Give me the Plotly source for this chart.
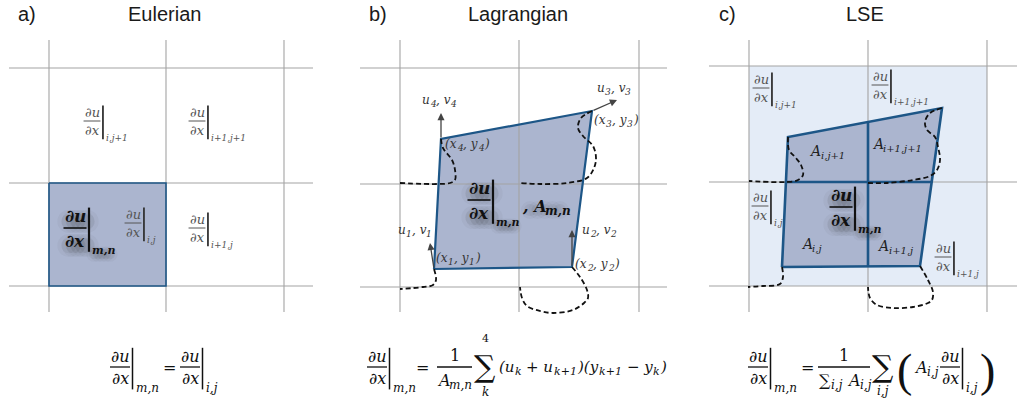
import plotly.graph_objects as go

W, H = 1017, 403

# ---- grid of each panel (pixel-space coordinates) ----
GRID_X = {"a": [49, 166, 284], "b": [400, 519, 639], "c": [749, 868, 987]}
GRID_Y = {"a": [68, 183, 286], "b": [68, 184, 287], "c": [66, 182, 286]}
GRID_XSPAN = {"a": [9, 313], "b": [360, 667], "c": [709, 1017]}
GRID_YSPAN = [40, 312]

# ---- a) Eulerian cell ----
EULER_CELL_X = [49, 166, 166, 49]
EULER_CELL_Y = [183, 183, 286, 286]

# ---- b) Lagrangian element, vertices 1..4 ----
LAG_QUAD_X = [434, 572, 592, 441]
LAG_QUAD_Y = [269, 267, 111, 139]
LAG_VEL_TIP_X = [430, 572, 617, 441]
LAG_VEL_TIP_Y = [243, 230, 100, 113]
LAG_TRACKS = [
    ([441, 443, 452, 455, 455, 450, 437, 400], [139, 148, 160, 170, 180, 183, 184, 183]),
    ([592, 581, 578, 583, 593, 596, 594, 587, 567, 540, 520], [111, 118, 128, 136, 146, 158, 168, 178, 183, 184, 183]),
    ([434, 436, 433, 423, 400], [269, 280, 285, 287, 289]),
    ([572, 580, 587, 588, 584, 573, 553, 540, 527, 522, 520], [267, 277, 290, 298, 303, 310, 313, 311, 306, 298, 287]),
]

# ---- c) LSE: background stencil and split element ----
LSE_BOX_X = [749, 987]
LSE_BOX_Y = [66, 286]
LSE_QUAD_X = [782, 920, 942, 788]
LSE_QUAD_Y = [267, 266, 108, 137]
LSE_SPLIT_X = 868
LSE_SPLIT_Y = 182
LSE_TRACKS = [
    ([788, 789, 795, 801, 803, 798, 787, 749], [137, 150, 157, 165, 175, 180, 182, 181]),
    ([942, 930, 925, 927, 935, 938, 940, 937, 930, 913, 887, 868], [108, 113, 122, 130, 137, 147, 160, 170, 176, 180, 183, 183]),
    ([782, 783, 780, 763, 748], [267, 277, 284, 286, 287]),
    ([920, 928, 933, 932, 928, 913, 893, 877, 870, 868], [266, 280, 292, 300, 303, 307, 308, 305, 298, 287]),
]

GRID_COLOR = "#a3a3a3"
EDGE = "#1d5687"
FILL = "#abb5cf"
LIGHT = "#e4ecf7"
MATH = "DejaVu Serif"
SANS = "Liberation Sans"

# approximate advance widths (em) of the italic math font
CHAR_W = {"(": 0.39, ")": 0.39, "x": 0.59, "y": 0.59, "u": 0.63, "v": 0.52, "A": 0.76,
          ",": 0.30, " ": 0.30, "+": 0.80, "−": 0.80, "∑": 0.72, "k": 0.58, "i": 0.28,
          "j": 0.28, "m": 0.97, "n": 0.63, "1": 0.64, "2": 0.64, "3": 0.64, "4": 0.64}

fig = go.Figure()


def poly(xs, ys, fill=None, line=None, width=1.0, dash=None, shape="linear"):
    xs = list(xs)
    ys = list(ys)
    if fill is not None:
        xs = xs + xs[:1]
        ys = ys + ys[:1]
    fig.add_trace(go.Scatter(
        x=xs, y=ys, mode="lines",
        fill="toself" if fill else None, fillcolor=fill,
        line=dict(color=line or "rgba(0,0,0,0)", width=width if line else 0,
                  dash=dash, shape=shape, smoothing=1.0 if shape == "spline" else None),
        hoverinfo="skip", showlegend=False))


def seg(x0, y0, x1, y1, color, width):
    poly([x0, x1], [y0, y1], line=color, width=width)


def txt(x, y, s, size, color="#222", family=MATH, anchor="center"):
    fig.add_annotation(x=x, y=y, xref="x", yref="y", text=s, showarrow=False,
                       xanchor=anchor, yanchor="middle", borderpad=0,
                       font=dict(size=int(round(size)), color=color, family=family))


def text_w(s, size):
    return sum(CHAR_W.get(c, 0.6) for c in s) * size * 1.05


def run(x, y, pieces, size, color="#222", anchor="left", bold=False):
    """Italic math run; pieces are (text, 'n') for normal and (text, 's') for subscripts."""
    sub_size = int(round(size * 0.72))
    sizes = [size if k == "n" else sub_size for _, k in pieces]
    total = sum(text_w(t, sz) for (t, _), sz in zip(pieces, sizes))
    cur = x - total / 2 if anchor == "center" else x
    for (t, k), sz in zip(pieces, sizes):
        core = t.strip(" ")
        lead = len(t) - len(t.lstrip(" "))
        trail = len(t) - len(t.rstrip(" "))
        cur += lead * text_w(" ", sz)
        label = "<i>%s</i>" % core
        if bold:
            label = "<b>%s</b>" % label
        yy = y if k == "n" else y + 0.33 * size
        txt(cur, yy, label, sz, color, anchor="left")
        cur += text_w(core, sz) + trail * text_w(" ", sz)


def smudge(cx, cy, span, size):
    # soft drop shadow under bold expressions
    xs = [cx - span / 2 + i * span / 4 for i in range(5)]
    for sz, a in [(size * 1.5, 0.04), (size * 1.0, 0.06)]:
        fig.add_trace(go.Scatter(x=xs, y=[cy] * 5, mode="markers",
                                 marker=dict(size=sz, color="rgba(40,40,40,%.2f)" % a, line=dict(width=0)),
                                 hoverinfo="skip", showlegend=False))


def deriv(xc, ybar, size, sub, color="#555", bar="#333", bold=False, w=None,
          shadow=False, line_w=1.0, bar_w=1.8, sub_size=None):
    w = w or 1.3 * size
    sub_size = sub_size or 0.72 * size
    num, den = "∂u", "∂x"
    subt = sub
    if bold:
        num, den, subt = "<b>∂u</b>", "<b>∂x</b>", "<b>%s</b>" % sub
    vx = xc + w / 2 + 2.5
    if shadow:
        smudge(xc + 3, ybar - 0.68 * size + 5, w * 0.8, size * 0.9)
        smudge(xc + 3, ybar + 0.74 * size + 5, w * 0.8, size * 0.9)
        smudge(vx + 13, ybar + 1.3 * size + 4, 16, size * 0.6)
    txt(xc, ybar - 0.68 * size, "<i>%s</i>" % num, size, color)
    txt(xc, ybar + 0.74 * size, "<i>%s</i>" % den, size, color)
    seg(xc - w / 2, ybar, xc + w / 2, ybar, color, line_w)
    seg(vx, ybar - 1.2 * size, vx, ybar + 1.4 * size, bar, bar_w)
    txt(vx + 2, ybar + 1.3 * size, "<i>%s</i>" % subt, sub_size, color, anchor="left")


# ---- backgrounds and element fills ----
poly([LSE_BOX_X[0], LSE_BOX_X[1], LSE_BOX_X[1], LSE_BOX_X[0]],
     [LSE_BOX_Y[0], LSE_BOX_Y[0], LSE_BOX_Y[1], LSE_BOX_Y[1]], fill=LIGHT)
poly(EULER_CELL_X, EULER_CELL_Y, fill=FILL)
poly(LAG_QUAD_X, LAG_QUAD_Y, fill=FILL)
poly(LSE_QUAD_X, LSE_QUAD_Y, fill=FILL)

# ---- grid lines ----
for p in "abc":
    for gx in GRID_X[p]:
        seg(gx, GRID_YSPAN[0], gx, GRID_YSPAN[1], GRID_COLOR, 1.1)
    for gy in GRID_Y[p]:
        seg(GRID_XSPAN[p][0], gy, GRID_XSPAN[p][1], gy, GRID_COLOR, 1.1)

# ---- element outlines ----
poly(EULER_CELL_X + EULER_CELL_X[:1], EULER_CELL_Y + EULER_CELL_Y[:1], line=EDGE, width=1.6)
poly(LAG_QUAD_X + LAG_QUAD_X[:1], LAG_QUAD_Y + LAG_QUAD_Y[:1], line=EDGE, width=2.2)
poly(LSE_QUAD_X + LSE_QUAD_X[:1], LSE_QUAD_Y + LSE_QUAD_Y[:1], line=EDGE, width=2.6)


def edge_x_at(y, i0, i1):
    x0, y0, x1, y1 = LSE_QUAD_X[i0], LSE_QUAD_Y[i0], LSE_QUAD_X[i1], LSE_QUAD_Y[i1]
    return x0 + (y - y0) / (y1 - y0) * (x1 - x0)


def edge_y_at(x, i0, i1):
    x0, y0, x1, y1 = LSE_QUAD_X[i0], LSE_QUAD_Y[i0], LSE_QUAD_X[i1], LSE_QUAD_Y[i1]
    return y0 + (x - x0) / (x1 - x0) * (y1 - y0)


seg(LSE_SPLIT_X, edge_y_at(LSE_SPLIT_X, 3, 2), LSE_SPLIT_X, edge_y_at(LSE_SPLIT_X, 0, 1), EDGE, 2.6)
seg(edge_x_at(LSE_SPLIT_Y, 0, 3), LSE_SPLIT_Y, edge_x_at(LSE_SPLIT_Y, 1, 2), LSE_SPLIT_Y, EDGE, 2.6)

# ---- material tracks (dashed) ----
for xs, ys in LAG_TRACKS + LSE_TRACKS:
    poly(xs, ys, line="#111", width=1.8, dash="5px,3px", shape="spline")

# ---- velocity arrows ----
for x0, y0, x1, y1 in zip(LAG_QUAD_X, LAG_QUAD_Y, LAG_VEL_TIP_X, LAG_VEL_TIP_Y):
    fig.add_annotation(x=x1, y=y1, ax=x0, ay=y0, xref="x", yref="y", axref="x", ayref="y",
                       text="", showarrow=True, arrowhead=2, arrowsize=1.1,
                       arrowwidth=1.3, arrowcolor="#444")

# ---- panel titles ----
for x, lab in [(27, "a)"), (378, "b)"), (727, "c)")]:
    txt(x, 14, lab, 20, "#1a1a1a", SANS)
for x, lab in [(164, "Eulerian"), (518, "Lagrangian"), (865, "LSE")]:
    txt(x, 14, lab, 20, "#1a1a1a", SANS)

# ---- a) Eulerian labels ----
deriv(92, 121, 13, "i,j+1")
deriv(197, 121, 13, "i+1,j+1")
deriv(197, 228, 13, "i+1,j")
deriv(133, 223, 13, "i,j")
deriv(75, 228, 17, "m,n", color="#111", bar="#111", bold=True, w=23, shadow=True,
      line_w=1.6, bar_w=2.2, sub_size=11)

# ---- b) Lagrangian labels ----
deriv(479, 200, 17, "m,n", color="#111", bar="#111", bold=True, w=23, shadow=True,
      line_w=1.6, bar_w=2.2, sub_size=11)
smudge(545, 210, 30, 12)
run(521, 206, [(", A", "n"), ("m,n", "s")], 16, "#111", bold=True)
for x, y, k in [(438, 100, "4"), (613, 88, "3"), (414, 230, "1"), (598, 230, "2")]:
    run(x, y, [("u", "n"), (k, "s"), (", v", "n"), (k, "s")], 12, "#333", anchor="center")
for x, y, k in [(435, 258, "1"), (574, 264, "2"), (593, 120, "3"), (444, 144, "4")]:
    run(x, y, [("(x", "n"), (k, "s"), (", y", "n"), (k, "s"), (")", "n")], 12, "#333")

# ---- c) LSE labels ----
deriv(761, 88, 13, "i,j+1")
deriv(880, 85, 13, "i+1,j+1")
deriv(760, 206, 13, "i,j")
deriv(943, 257, 13, "i+1,j")
for x, y, s in [(826, 151, "i,j+1"), (896, 144, "i+1,j+1"), (810, 244, "i,j"), (894, 246, "i+1,j")]:
    run(x, y, [("A", "n"), (s, "s")], 14, "#222", anchor="center")
deriv(841, 207, 17, "m,n", color="#111", bar="#111", bold=True, w=23, shadow=True,
      line_w=1.6, bar_w=2.2, sub_size=11)

# ---- bottom formulas ----
F = 16
deriv(120, 367, F, "m,n", color="#111", bar="#111", w=20, line_w=1.3, bar_w=1.5)
txt(169, 367, "=", F, "#111")
deriv(190, 367, F, "i,j", color="#111", bar="#111", w=20, line_w=1.3, bar_w=1.5)

deriv(377, 367, F, "m,n", color="#111", bar="#111", w=20, line_w=1.3, bar_w=1.5)
txt(422, 367, "=", F, "#111")
txt(455, 355, "1", F, "#111")
seg(437, 367, 472, 367, "#111", 1.3)
run(454, 380, [("A", "n"), ("m,n", "s")], F, "#111", anchor="center")
txt(485, 366, "∑", 30, "#111")
txt(485, 338, "4", 11, "#111")
txt(485, 392, "<i>k</i>", 12, "#111")
run(498, 367, [("(u", "n"), ("k", "s"), (" + u", "n"), ("k+1", "s"), (")(y", "n"),
               ("k+1", "s"), (" − y", "n"), ("k", "s"), (")", "n")], 15, "#111")

deriv(758, 367, F, "m,n", color="#111", bar="#111", w=20, line_w=1.3, bar_w=1.5)
txt(807, 367, "=", F, "#111")
txt(844, 355, "1", F, "#111")
seg(818, 367, 870, 367, "#111", 1.3)
run(844, 380, [("∑", "n"), ("i,j", "s"), (" A", "n"), ("i,j", "s")], F, "#111", anchor="center")
txt(883, 366, "∑", 30, "#111")
txt(883, 391, "<i>i,j</i>", 12, "#111")
txt(904, 370, "(", 46, "#111", family="Liberation Serif")
run(913, 367, [("A", "n"), ("i,j", "s")], F, "#111")
deriv(950, 367, F, "i,j", color="#111", bar="#111", w=20, line_w=1.3, bar_w=1.5)
txt(987, 370, ")", 46, "#111", family="Liberation Serif")

fig.update_layout(
    width=W, height=H, margin=dict(l=0, r=0, t=0, b=0),
    paper_bgcolor="white", plot_bgcolor="white", showlegend=False,
    xaxis=dict(range=[0, W], visible=False, fixedrange=True),
    yaxis=dict(range=[H, 0], visible=False, fixedrange=True),
)
fig.write_html("out.html")
